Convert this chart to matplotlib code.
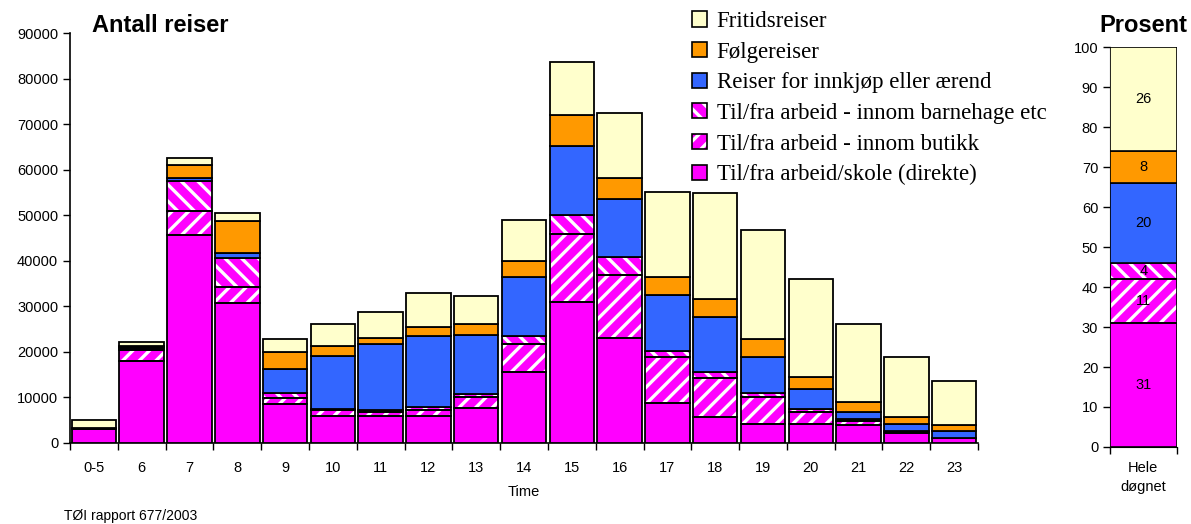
import matplotlib.pyplot as plt
import numpy as np
from matplotlib.patches import Patch
from matplotlib.legend_handler import HandlerTuple

# Antall reiser per time, fordelt på formål
hours = ['0-5', '6', '7', '8', '9', '10', '11', '12', '13', '14', '15',
         '16', '17', '18', '19', '20', '21', '22', '23']
direkte = [3000, 18000, 45750, 30750, 8500, 5900, 5900, 5900, 7600, 15650, 30950,
           22950, 8750, 5600, 4100, 4100, 3850, 2100, 1150]
butikk = [0, 2400, 5200, 3550, 1450, 1250, 900, 1400, 2550, 6050, 14850,
          13850, 10200, 8650, 6100, 2600, 950, 300, 0]
barnehage = [0, 400, 6600, 6250, 1000, 350, 500, 600, 550, 1800, 4300,
             4100, 1300, 1400, 800, 800, 500, 250, 0]
innkjop = [100, 250, 650, 1150, 5300, 11650, 14500, 15650, 13050, 12900, 15000,
           12700, 12150, 11950, 7800, 4400, 1600, 1450, 1450]
folge = [200, 250, 2850, 7000, 3700, 2250, 1150, 1950, 2350, 3550, 7000,
         4650, 4100, 4100, 4100, 2550, 2100, 1550, 1450]
fritid = [1700, 900, 1550, 1750, 2950, 4750, 5850, 7350, 6100, 8950, 11600,
          14300, 18550, 23100, 23750, 21450, 17150, 13250, 9650]

# Andel for hele døgnet (prosent)
prosent = [31, 11, 4, 20, 8, 26]

labels = ['Til/fra arbeid/skole (direkte)',
          'Til/fra arbeid - innom butikk',
          'Til/fra arbeid - innom barnehage etc',
          'Reiser for innkjøp eller ærend',
          'Følgereiser',
          'Fritidsreiser']
colors = ['#FF00FF', '#FF00FF', '#FF00FF', '#3366FF', '#FF9900', '#FFFFCC']
hatches = [None, '//', '\\\\', None, None, None]

plt.rcParams['font.family'] = 'Liberation Sans'
plt.rcParams['hatch.linewidth'] = 2.4

series = [direkte, butikk, barnehage, innkjop, folge, fritid]

fig = plt.figure(figsize=(11.91, 5.24), dpi=100)
ax = fig.add_axes([0.0588, 0.1546, 0.7624, 0.7824])
ax2 = fig.add_axes([0.932, 0.147, 0.056, 0.763])


def stacked(axis, x, values_list, width, lw):
    bottom = np.zeros(len(x))
    for vals, col, h in zip(values_list, colors, hatches):
        vals = np.asarray(vals, dtype=float)
        if h:
            axis.bar(x, vals, width, bottom=bottom, color=col, edgecolor='white',
                     hatch=h, linewidth=0, zorder=2)
            axis.bar(x, vals, width, bottom=bottom, fill=False, edgecolor='black',
                     linewidth=lw, zorder=3)
        else:
            axis.bar(x, vals, width, bottom=bottom, color=col, edgecolor='black',
                     linewidth=lw, zorder=3)
        bottom += vals
    return bottom


x = np.arange(len(hours))
stacked(ax, x, series, 0.93, 1.3)

ax.set_xlim(-0.5, len(hours) - 0.5)
ax.set_ylim(0, 90000)
ax.set_yticks(np.arange(0, 90001, 10000))
ax.tick_params(axis='y', labelsize=10.5, direction='out', length=5, width=1)
ax.set_xticks(np.arange(-0.5, len(hours), 1))
ax.set_xticklabels([])
ax.set_xticks(x, minor=True)
ax.set_xticklabels(hours, minor=True)
ax.tick_params(axis='x', which='major', direction='out', length=5, width=1)
ax.tick_params(axis='x', which='minor', length=0, labelsize=10.5, pad=13)
for s in ['top', 'right']:
    ax.spines[s].set_visible(False)
for s in ['left', 'bottom']:
    ax.spines[s].set_linewidth(1.2)
ax.set_xlabel('Time', fontsize=10.5, labelpad=7)

fig.text(0.0773, 0.9395, 'Antall reiser', fontsize=17, fontweight='bold',
         va='baseline', ha='left')

# Prosentsøyle for hele døgnet
ax2.set_xlim(-0.5, 0.5)
stacked(ax2, np.array([0.0]), [[v] for v in prosent], 1.0, 1.2)
bottom = 0
for v in prosent:
    ax2.text(0, bottom + v / 2, str(v), ha='center', va='center', fontsize=10.5,
             zorder=4)
    bottom += v

ax2.set_ylim(0, 100)
ax2.set_yticks(np.arange(0, 101, 10))
ax2.tick_params(axis='y', labelsize=10.5, direction='out', length=5, width=1)
ax2.set_xticks([-0.5, 0.5])
ax2.set_xticklabels([])
ax2.set_xticks([0], minor=True)
ax2.set_xticklabels(['Hele\ndøgnet'], minor=True, linespacing=1.45)
ax2.tick_params(axis='x', which='major', direction='out', length=5, width=1)
ax2.tick_params(axis='x', which='minor', length=0, labelsize=10.5, pad=10)
for s in ['top', 'right']:
    ax2.spines[s].set_visible(False)
fig.text(0.9597, 0.9395, 'Prosent', fontsize=17, fontweight='bold',
         va='baseline', ha='center')

# Forklaring
handles = []
for col, h in zip(colors, hatches):
    if h:
        handles.append((Patch(facecolor=col, edgecolor='white', hatch=h, linewidth=0),
                        Patch(fill=False, edgecolor='black', linewidth=1.2)))
    else:
        handles.append(Patch(facecolor=col, edgecolor='black', linewidth=1.2))
fig.legend(handles[::-1], labels[::-1], loc='upper left',
           bbox_to_anchor=(0.581, 0.979), frameon=False, borderpad=0,
           borderaxespad=0, prop={'family': 'Liberation Serif', 'size': 16.5},
           handlelength=0.64, handleheight=0.64, handletextpad=0.44,
           labelspacing=0.42,
           handler_map={tuple: HandlerTuple(ndivide=1, pad=0)})

fig.text(0.054, 0.008, 'TØI rapport 677/2003', fontsize=10, va='baseline')

fig.savefig('out.png', dpi=100)
